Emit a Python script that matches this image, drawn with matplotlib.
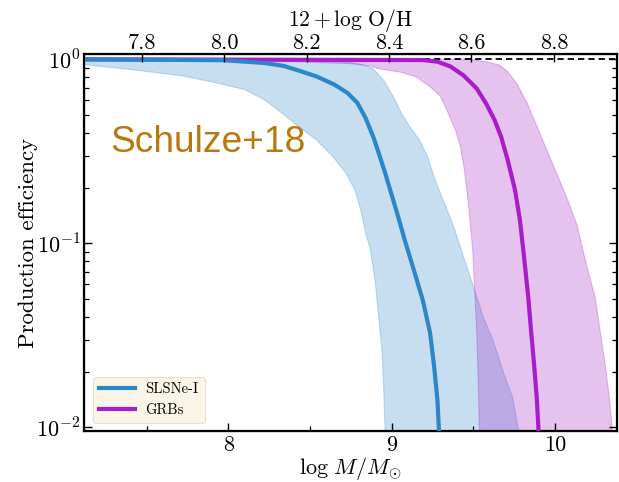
import matplotlib
matplotlib.use("Agg")
import matplotlib.pyplot as plt
from matplotlib.ticker import NullFormatter, LogLocator

plt.rcParams["font.family"] = "serif"
plt.rcParams["font.serif"] = ["cmr10", "DejaVu Serif"]
plt.rcParams["mathtext.fontset"] = "cm"
plt.rcParams["axes.formatter.use_mathtext"] = True

# Median production efficiency vs host stellar mass
slsn_mass = [7.10, 7.97, 8.22, 8.34, 8.44, 8.54, 8.65, 8.73, 8.79, 8.84, 8.89,
             8.92, 8.96, 9.00, 9.04, 9.08, 9.13, 9.19, 9.235, 9.26, 9.28, 9.29]
slsn_eff = [1.0, 0.989, 0.955, 0.920, 0.863, 0.807, 0.728, 0.656, 0.579, 0.480, 0.373,
            0.310, 0.241, 0.183, 0.139, 0.104, 0.0743, 0.0492, 0.0326, 0.0213, 0.0141, 0.0093]

grb_mass = [7.10, 9.19, 9.28, 9.36, 9.44, 9.52, 9.58, 9.63, 9.67, 9.71, 9.755,
            9.785, 9.81, 9.836, 9.853, 9.871, 9.888, 9.90]
grb_eff = [1.0, 0.991, 0.971, 0.914, 0.817, 0.695, 0.571, 0.468, 0.379, 0.284, 0.195,
           0.134, 0.0851, 0.0511, 0.0338, 0.0224, 0.0146, 0.0093]

# Confidence bands (lower / upper boundaries)
slsn_lo_mass = [7.10, 7.32, 7.53, 7.73, 7.93, 8.10, 8.22, 8.34, 8.44, 8.54, 8.64,
                8.72, 8.775, 8.81, 8.84, 8.87, 8.90, 8.92, 8.94, 8.95, 8.96]
slsn_lo_eff = [0.938, 0.897, 0.853, 0.809, 0.743, 0.684, 0.603, 0.500, 0.424, 0.364, 0.296,
               0.240, 0.195, 0.152, 0.114, 0.0920, 0.0608, 0.0398, 0.0263, 0.0174, 0.0093]
slsn_hi_mass = [7.10, 8.65, 8.71, 8.81, 8.885, 8.95, 9.01, 9.06, 9.11, 9.17, 9.22,
                9.265, 9.32, 9.38, 9.44, 9.50, 9.56, 9.62, 9.69, 9.74, 9.78]
slsn_hi_eff = [1.0, 0.991, 0.973, 0.942, 0.893, 0.771, 0.627, 0.509, 0.431, 0.364, 0.296,
               0.221, 0.168, 0.123, 0.0845, 0.0586, 0.0399, 0.0298, 0.0192, 0.0146, 0.0093]

grb_lo_mass = [7.10, 8.13, 8.38, 8.74, 8.87, 8.93, 9.05, 9.15, 9.235, 9.30, 9.345,
               9.39, 9.42, 9.445, 9.467, 9.486, 9.496, 9.506, 9.521, 9.530, 9.537]
grb_lo_eff = [1.0, 0.998, 0.973, 0.948, 0.920, 0.885, 0.853, 0.803, 0.710, 0.627, 0.511,
              0.413, 0.338, 0.250, 0.172, 0.114, 0.0920, 0.0608, 0.0325, 0.0174, 0.0093]
grb_hi_mass = [7.10, 9.48, 9.58, 9.66, 9.71, 9.765, 9.83, 9.89, 9.95, 10.01, 10.07,
               10.135, 10.19, 10.245, 10.276, 10.306, 10.332, 10.353]
grb_hi_eff = [1.0, 1.0, 0.971, 0.931, 0.857, 0.741, 0.577, 0.431, 0.321, 0.240, 0.179,
              0.126, 0.0778, 0.0513, 0.0338, 0.0223, 0.0147, 0.0093]

mass_ticks = [8, 9, 10]
mass_ticklabels = ["8", "9", "10"]
oh_ticks = [7.8, 8.0, 8.2, 8.4, 8.6, 8.8]
oh_ticklabels = ["7.8", "8.0", "8.2", "8.4", "8.6", "8.8"]
eff_ticks = [0.01, 0.1, 1.0]
eff_ticklabels = [r"$10^{-2}$", r"$10^{-1}$", r"$10^{0}$"]

series_labels = ["SLSNe-I", "GRBs"]

c_slsn = "#2b87c8"
c_slsn_fill = "#1f7fc4"
c_grb = "#a81ccb"
c_grb_fill = "#9f0fc3"

fig = plt.figure(figsize=(6.19, 4.82), dpi=100)
ax = fig.add_axes([0.1349, 0.1058, 0.8619, 0.7822])
ax.set_yscale("log")

# bands drawn as closed polygons: lower boundary out, upper boundary back
ax.fill(slsn_lo_mass + slsn_hi_mass[::-1], slsn_lo_eff + slsn_hi_eff[::-1],
        color=c_slsn_fill, alpha=0.25, lw=0.8, zorder=1)
ax.fill(grb_lo_mass + grb_hi_mass[::-1], grb_lo_eff + grb_hi_eff[::-1],
        color=c_grb_fill, alpha=0.25, lw=0.8, zorder=1.1)

ax.axhline(1.0, color="black", ls=(0, (3.5, 2.2)), lw=1.3, zorder=1.5)

l_grb, = ax.plot(grb_mass, grb_eff, color=c_grb, lw=3.0, zorder=3, label=series_labels[1])
l_slsn, = ax.plot(slsn_mass, slsn_eff, color=c_slsn, lw=3.0, zorder=4, label=series_labels[0])

ax.set_xlim(7.1127, 10.3797)
ax.set_ylim(0.00955, 1.069)

ax.set_xticks(mass_ticks, mass_ticklabels)
ax.set_xticks([7.5, 8.5, 9.5], minor=True)
ax.set_yticks(eff_ticks, eff_ticklabels)
ax.yaxis.set_minor_locator(LogLocator(base=10, subs=range(2, 10)))
ax.yaxis.set_minor_formatter(NullFormatter())

ax.tick_params(which="both", direction="in", labelsize=16, top=False, right=True)
ax.tick_params(which="major", length=6, width=1.0, pad=2)
ax.tick_params(which="minor", length=3.5, width=0.9)
ax.tick_params(axis="x", pad=3)
for s in ax.spines.values():
    s.set_linewidth(1.6)

ax.set_xlabel(r"$\log\, M/M_{\odot}$", fontsize=16, labelpad=0)
ax.set_ylabel("Production efficiency", fontsize=16.5, labelpad=-1)

# metallicity scale along the top
ax2 = ax.twiny()
ax2.set_xlim(7.6586, 8.9531)
ax2.set_xticks(oh_ticks, oh_ticklabels)
ax2.tick_params(which="both", direction="in", labelsize=16, length=6, width=1.0, pad=1)
ax2.set_xlabel(r"$12 + \log\,\mathrm{O/H}$", fontsize=15.5, labelpad=5)

leg = ax.legend(handles=[l_slsn, l_grb], loc="lower left",
                bbox_to_anchor=(0.0178, 0.021), borderaxespad=0,
                fontsize=10.5, handlelength=2.5, handletextpad=0.7,
                borderpad=0.4, fancybox=True, framealpha=1.0)
leg.get_frame().set_facecolor("#fbf5e8")
leg.get_frame().set_edgecolor("#e6dfd2")
leg.get_frame().set_linewidth(0.8)

ax.text(0.0497, 0.741, "Schulze+18", transform=ax.transAxes,
        fontsize=26.7, color="#b8780c", family=["Liberation Sans", "DejaVu Sans"],
        ha="left", va="baseline", zorder=6)

fig.savefig("out.png", dpi=100)
